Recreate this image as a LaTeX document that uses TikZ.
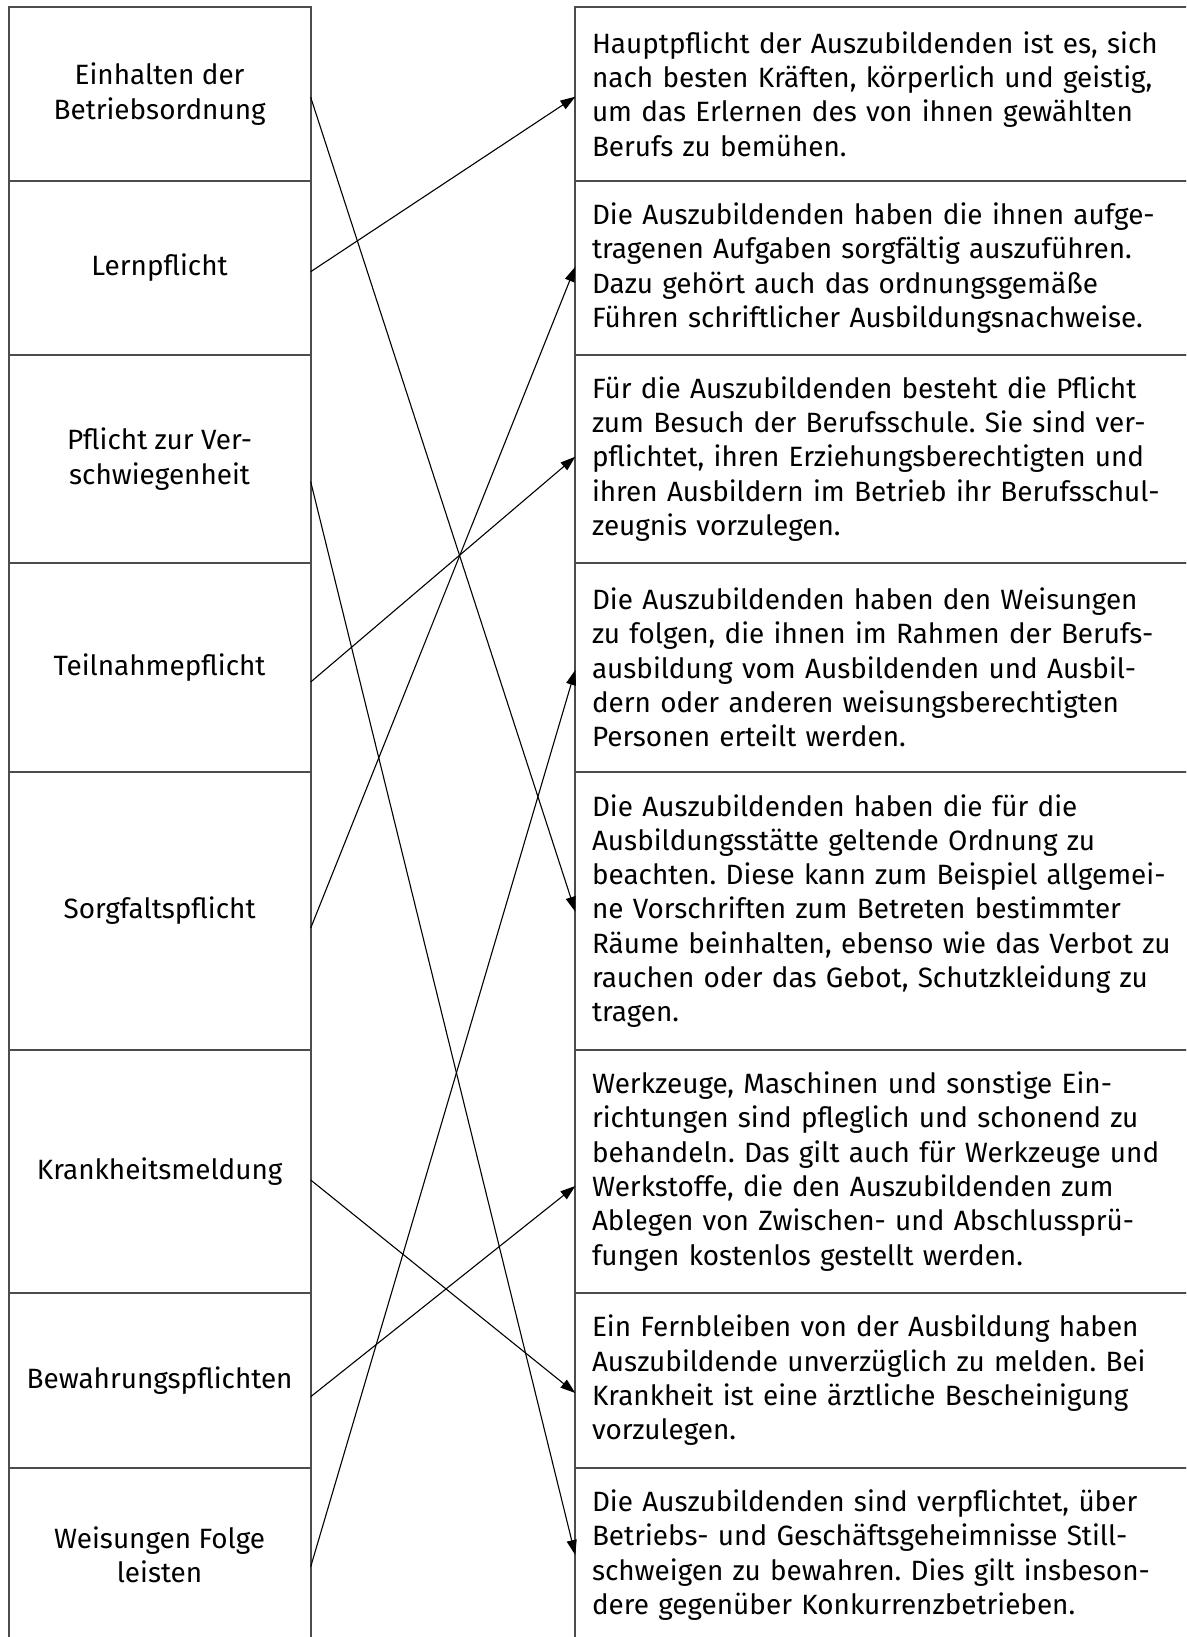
\documentclass[tikz,border=0pt]{standalone}
\usepackage{fontspec}
\setmainfont{Fira Sans}
\usetikzlibrary{arrows.meta}
\frenchspacing

\begin{document}
\begin{tikzpicture}[x=1pt,y=-1pt,
  box/.style={draw=black!70,line width=2pt,outer sep=0pt,inner sep=0pt,
    font=\fontsize{27.9}{34.3}\selectfont},
  leftbox/.style={box,minimum width=302.2pt,align=center},
  rightbox/.style={box,minimum width=624.7pt,inner xsep=16.7pt,text width=591.3pt,align=left},
  link/.style={line width=1.1pt,-{Triangle[length=15pt,width=10pt]}}]

\useasboundingbox (0,0) rectangle (1186,1637);
\clip (0,0) rectangle (1186,1637);

\node[leftbox,minimum height=174pt] (l1) at (159.6,94) {Einhalten der\\Betriebsordnung};
\node[leftbox,minimum height=174pt] (l2) at (159.6,268) {Lernpflicht};
\node[leftbox,minimum height=208pt] (l3) at (159.6,459) {Pflicht zur Ver-\\schwiegenheit};
\node[leftbox,minimum height=209pt] (l4) at (159.6,667.5) {Teilnahmepflicht};
\node[leftbox,minimum height=278pt] (l5) at (159.6,911) {Sorgfaltspflicht};
\node[leftbox,minimum height=243pt] (l6) at (159.6,1171.5) {Krankheitsmeldung};
\node[leftbox,minimum height=175pt] (l7) at (159.6,1380.5) {Bewahrungspflichten};
\node[leftbox,minimum height=174pt] (l8) at (159.6,1555) {Weisungen Folge\\leisten};

\node[rightbox,minimum height=174pt] (r1) at (887.65,94) {Hauptpflicht der Auszubildenden ist es, sich\\nach besten Kräften, körperlich und geistig,\\um das Erlernen des von ihnen gewählten\\Berufs zu bemühen.};
\node[rightbox,minimum height=174pt] (r2) at (887.65,268) {Die Auszubildenden haben die ihnen aufge-\\tragenen Aufgaben sorgfältig auszuführen.\\Dazu gehört auch das ordnungsgemäße\\Führen schriftlicher Ausbildungsnachweise.};
\node[rightbox,minimum height=208pt] (r3) at (887.65,459) {Für die Auszubildenden besteht die Pflicht\\zum Besuch der Berufsschule. Sie sind ver-\\pflichtet, ihren Erziehungsberechtigten und\\ihren Ausbildern im Betrieb ihr Berufsschul-\\zeugnis vorzulegen.};
\node[rightbox,minimum height=209pt] (r4) at (887.65,667.5) {Die Auszubildenden haben den Weisungen\\zu folgen, die ihnen im Rahmen der Berufs-\\ausbildung vom Ausbildenden und Ausbil-\\dern oder anderen weisungsberechtigten\\Personen erteilt werden.};
\node[rightbox,minimum height=278pt] (r5) at (887.65,911) {Die Auszubildenden haben die für die\\Ausbildungsstätte geltende Ordnung zu\\beachten. Diese kann zum Beispiel allgemei-\\ne Vorschriften zum Betreten bestimmter\\Räume beinhalten, ebenso wie das Verbot zu\\rauchen oder das Gebot, Schutzkleidung zu\\tragen.};
\node[rightbox,minimum height=243pt] (r6) at (887.65,1171.5) {Werkzeuge, Maschinen und sonstige Ein-\\richtungen sind pfleglich und schonend zu\\behandeln. Das gilt auch für Werkzeuge und\\Werkstoffe, die den Auszubildenden zum\\Ablegen von Zwischen- und Abschlussprü-\\fungen kostenlos gestellt werden.};
\node[rightbox,minimum height=175pt] (r7) at (887.65,1380.5) {Ein Fernbleiben von der Ausbildung haben\\Auszubildende unverzüglich zu melden. Bei\\Krankheit ist eine ärztliche Bescheinigung\\vorzulegen.};
\node[rightbox,minimum height=174pt] (r8) at (887.65,1555) {Die Auszubildenden sind verpflichtet, über\\Betriebs- und Geschäftsgeheimnisse Still-\\schweigen zu bewahren. Dies gilt insbeson-\\dere gegenüber Konkurrenzbetrieben.};

\draw[link] ([yshift=-3.3pt]l1.east) -- ([yshift=-0.7pt]r5.west);
\draw[link] ([yshift=-3.7pt]l2.east) -- ([yshift=-2.7pt]r1.west);
\draw[link] ([yshift=-22.7pt]l3.east) -- (r8.west);
\draw[link] ([yshift=-14.5pt]l4.east) -- ([yshift=2.3pt]r3.west);
\draw[link] ([yshift=-17pt]l5.east) -- ([yshift=1.3pt]r2.west);
\draw[link] ([yshift=-8.5pt]l6.east) -- ([yshift=-12.5pt]r7.west);
\draw[link] ([yshift=-16.2pt]l7.east) -- ([yshift=-14.5pt]r6.west);
\draw[link] ([yshift=-11.7pt]l8.east) -- ([yshift=-2.5pt]r4.west);

\end{tikzpicture}
\end{document}
